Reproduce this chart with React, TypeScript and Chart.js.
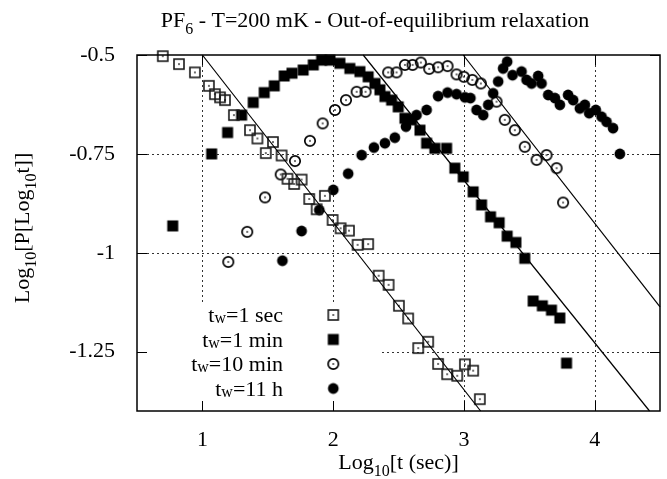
import React, { useEffect, useRef } from 'react';
import { Chart, registerables } from 'chart.js';

Chart.register(...registerables);

const FONT = '"Liberation Serif", "Times New Roman", "DejaVu Serif", serif';

const titleMain = 'PF';
const titleSub = '6';
const titleRest = ' - T=200 mK - Out-of-equilibrium relaxation';

const xTicks = [1, 2, 3, 4];
const xTickLabels = ['1', '2', '3', '4'];
const yTicks = [-0.5, -0.75, -1, -1.25];
const yTickLabels = ['-0.5', '-0.75', '-1', '-1.25'];
const xRange = [0.5, 4.5];
const yRange = [-1.4, -0.5];

const legendLabels = ['=1 sec', '=1 min', '=10 min', '=11 h'];

// tw = 1 sec (open squares)
const sec1X = [0.697, 0.821, 0.943, 1.05, 1.096, 1.135, 1.173, 1.241, 1.364, 1.421, 1.485, 1.54, 1.606, 1.651, 1.702, 1.759, 1.817, 1.874, 1.937, 1.996, 2.057, 2.121, 2.187, 2.268, 2.348, 2.424, 2.503, 2.574, 2.651, 2.727, 2.803, 2.872, 2.949, 3.008, 3.071, 3.122];
const sec1Y = [-0.503, -0.523, -0.544, -0.578, -0.599, -0.607, -0.614, -0.652, -0.69, -0.711, -0.748, -0.72, -0.754, -0.813, -0.826, -0.815, -0.864, -0.89, -0.856, -0.917, -0.938, -0.944, -0.98, -0.978, -1.058, -1.081, -1.134, -1.166, -1.241, -1.225, -1.281, -1.307, -1.311, -1.282, -1.298, -1.37];

// tw = 1 min (filled squares)
const min1X = [0.773, 1.071, 1.193, 1.3, 1.389, 1.473, 1.55, 1.626, 1.685, 1.771, 1.848, 1.912, 1.976, 2.052, 2.128, 2.205, 2.268, 2.32, 2.358, 2.396, 2.447, 2.498, 2.549, 2.6, 2.664, 2.715, 2.778, 2.868, 2.931, 2.995, 3.071, 3.135, 3.204, 3.27, 3.331, 3.398, 3.466, 3.53, 3.6, 3.67, 3.734, 3.785];
const min1Y = [-0.932, -0.75, -0.696, -0.652, -0.62, -0.595, -0.578, -0.553, -0.546, -0.538, -0.525, -0.513, -0.513, -0.521, -0.534, -0.542, -0.555, -0.572, -0.588, -0.605, -0.614, -0.631, -0.66, -0.664, -0.69, -0.723, -0.736, -0.736, -0.786, -0.808, -0.846, -0.879, -0.909, -0.924, -0.958, -0.974, -1.014, -1.122, -1.134, -1.145, -1.165, -1.279];

// tw = 10 min (open circles)
const min10X = [1.198, 1.343, 1.479, 1.599, 1.708, 1.823, 1.92, 2.014, 2.098, 2.18, 2.248, 2.421, 2.485, 2.549, 2.608, 2.671, 2.735, 2.803, 2.875, 2.944, 3.0, 3.065, 3.13, 3.25, 3.313, 3.39, 3.466, 3.556, 3.632, 3.709, 3.759];
const min10Y = [-1.023, -0.947, -0.86, -0.802, -0.768, -0.717, -0.673, -0.639, -0.614, -0.593, -0.593, -0.544, -0.544, -0.525, -0.525, -0.519, -0.535, -0.531, -0.528, -0.549, -0.555, -0.563, -0.572, -0.618, -0.664, -0.69, -0.732, -0.765, -0.753, -0.786, -0.873];

// tw = 11 h (filled circles)
const h11X = [1.612, 1.759, 1.894, 2.001, 2.115, 2.218, 2.312, 2.396, 2.472, 2.557, 2.638, 2.715, 2.803, 2.875, 2.944, 3.008, 3.05, 3.097, 3.148, 3.186, 3.224, 3.262, 3.3, 3.331, 3.372, 3.441, 3.479, 3.518, 3.568, 3.594, 3.645, 3.696, 3.734, 3.797, 3.836, 3.887, 3.925, 3.958, 4.009, 4.053, 4.091, 4.141, 4.193];
const h11Y = [-1.02, -0.945, -0.892, -0.841, -0.8, -0.753, -0.734, -0.723, -0.709, -0.681, -0.652, -0.639, -0.604, -0.595, -0.599, -0.607, -0.609, -0.639, -0.652, -0.626, -0.597, -0.567, -0.534, -0.517, -0.551, -0.542, -0.563, -0.572, -0.553, -0.572, -0.601, -0.609, -0.626, -0.601, -0.614, -0.635, -0.626, -0.647, -0.639, -0.656, -0.669, -0.685, -0.75];

// straight fit lines (endpoints)
const fitAX = [1.0, 3.128];
const fitAY = [-0.5, -1.4];
const fitBX = [2.23, 4.42];
const fitBY = [-0.5, -1.4];
const fitCX = [2.995, 4.5];
const fitCY = [-0.5, -1.137];

type Part = { t: string; s: number; dy?: number };

function richWidth(ctx: CanvasRenderingContext2D, parts: Part[]) {
  let w = 0;
  for (const p of parts) {
    ctx.font = `${p.s}px ${FONT}`;
    w += ctx.measureText(p.t).width;
  }
  return w;
}

function drawRich(ctx: CanvasRenderingContext2D, parts: Part[], x: number, y: number, align: 'left' | 'center' | 'right') {
  const w = richWidth(ctx, parts);
  let cx = align === 'left' ? x : align === 'center' ? x - w / 2 : x - w;
  ctx.textAlign = 'left';
  ctx.textBaseline = 'alphabetic';
  ctx.fillStyle = '#000';
  for (const p of parts) {
    ctx.font = `${p.s}px ${FONT}`;
    ctx.fillText(p.t, cx, y + (p.dy || 0));
    cx += ctx.measureText(p.t).width;
  }
}

function makeMarker(kind: string): HTMLCanvasElement {
  const c = document.createElement('canvas');
  c.width = 16;
  c.height = 16;
  const g = c.getContext('2d') as CanvasRenderingContext2D;
  const m = 8;
  g.fillStyle = '#000';
  g.strokeStyle = '#1a1a1a';
  if (kind === 'openSquare') {
    g.lineWidth = 1.6;
    g.strokeRect(m - 5, m - 5, 10, 10);
    g.fillRect(m - 0.75, m - 0.75, 1.5, 1.5);
  } else if (kind === 'filledSquare') {
    g.fillRect(m - 5.5, m - 5.5, 11, 11);
  } else if (kind === 'openCircle') {
    g.strokeStyle = '#000';
    g.lineWidth = 1.7;
    g.beginPath();
    g.arc(m, m, 5.2, 0, Math.PI * 2);
    g.stroke();
    g.fillRect(m - 0.75, m - 0.75, 1.5, 1.5);
  } else {
    g.beginPath();
    g.arc(m, m, 5.4, 0, Math.PI * 2);
    g.fill();
  }
  return c;
}

export default function App() {
  const ref = useRef<HTMLCanvasElement | null>(null);

  useEffect(() => {
    const canvas = ref.current;
    if (!canvas) return;
    const markers = [
      makeMarker('openSquare'),
      makeMarker('filledSquare'),
      makeMarker('openCircle'),
      makeMarker('filledCircle'),
    ];
    const pts = (xs: number[], ys: number[]) => xs.map((x, i) => ({ x, y: ys[i] }));
    const markerSet = (data: { x: number; y: number }[], m: HTMLCanvasElement) => ({
      type: 'scatter' as const,
      data,
      pointStyle: m,
      pointRadius: 6,
      showLine: false,
      clip: false as any,
    });
    const lineSet = (data: { x: number; y: number }[]) => ({
      type: 'scatter' as const,
      data,
      showLine: true,
      pointRadius: 0,
      borderColor: '#000',
      borderWidth: 1.2,
      clip: false as any,
    });

    const decor = {
      id: 'decor',
      beforeDatasetsDraw(chart: any) {
        const { ctx, chartArea: a, scales } = chart;
        const x = scales.x;
        const y = scales.y;
        ctx.save();
        ctx.strokeStyle = '#333';
        ctx.lineWidth = 1;
        ctx.setLineDash([2, 3]);
        for (const v of xTicks) {
          const px = Math.round(x.getPixelForValue(v)) + 0.5;
          ctx.beginPath();
          ctx.moveTo(px, a.top);
          ctx.lineTo(px, a.bottom);
          ctx.stroke();
        }
        for (const v of yTicks) {
          if (v === yRange[1]) continue;
          const py = Math.round(y.getPixelForValue(v)) + 0.5;
          ctx.beginPath();
          ctx.moveTo(a.left, py);
          ctx.lineTo(a.right, py);
          ctx.stroke();
        }
        ctx.restore();
      },
      afterDatasetsDraw(chart: any) {
        const { ctx, chartArea: a, scales } = chart;
        const x = scales.x;
        const y = scales.y;
        ctx.save();
        // legend box
        const boxTop = 302;
        const boxRight = 382;
        ctx.fillStyle = '#fff';
        ctx.fillRect(a.left, boxTop, boxRight - a.left, a.bottom - boxTop);
        const rowY0 = 315;
        const rowDy = 24.5;
        legendLabels.forEach((lab, i) => {
          const ry = rowY0 + i * rowDy;
          drawRich(ctx, [
            { t: 't', s: 22 },
            { t: 'w', s: 16, dy: 1 },
            { t: lab, s: 22 },
          ], 283, ry + 7, 'right');
          const m = markers[i];
          ctx.drawImage(m, 333.3 - m.width / 2, ry - m.height / 2);
        });
        // border
        ctx.strokeStyle = '#000';
        ctx.lineWidth = 1.5;
        ctx.setLineDash([]);
        ctx.strokeRect(a.left, a.top, a.right - a.left, a.bottom - a.top);
        // ticks
        ctx.lineWidth = 1;
        const tl = 10;
        for (const v of xTicks) {
          const px = Math.round(x.getPixelForValue(v)) + 0.5;
          ctx.beginPath();
          ctx.moveTo(px, a.bottom);
          ctx.lineTo(px, a.bottom - tl);
          ctx.moveTo(px, a.top);
          ctx.lineTo(px, a.top + tl);
          ctx.stroke();
        }
        for (const v of yTicks) {
          const py = Math.round(y.getPixelForValue(v)) + 0.5;
          ctx.beginPath();
          ctx.moveTo(a.left, py);
          ctx.lineTo(a.left + tl, py);
          ctx.moveTo(a.right, py);
          ctx.lineTo(a.right - tl, py);
          ctx.stroke();
        }
        // title
        drawRich(ctx, [
          { t: titleMain, s: 22 },
          { t: titleSub, s: 16, dy: 7 },
          { t: titleRest, s: 22 },
        ], 375, 27, 'center');
        // x title
        drawRich(ctx, [
          { t: 'Log', s: 22 },
          { t: '10', s: 16, dy: 7 },
          { t: '[t (sec)]', s: 22 },
        ], (a.left + a.right) / 2, 469, 'center');
        // y title
        ctx.translate(29, 228);
        ctx.rotate(-Math.PI / 2);
        drawRich(ctx, [
          { t: 'Log', s: 22 },
          { t: '10', s: 16, dy: 7 },
          { t: '[P[Log', s: 22 },
          { t: '10', s: 16, dy: 7 },
          { t: 't]]', s: 22 },
        ], 0, 0, 'center');
        ctx.restore();
      },
    };

    const chart = new Chart(canvas, {
      type: 'scatter',
      data: {
        datasets: [
          lineSet(pts(fitAX, fitAY)),
          lineSet(pts(fitBX, fitBY)),
          lineSet(pts(fitCX, fitCY)),
          markerSet(pts(sec1X, sec1Y), markers[0]),
          markerSet(pts(min1X, min1Y), markers[1]),
          markerSet(pts(min10X, min10Y), markers[2]),
          markerSet(pts(h11X, h11Y), markers[3]),
        ] as any,
      },
      options: {
        responsive: false,
        animation: false,
        devicePixelRatio: 1,
        layout: { padding: { top: 55, right: 7, left: 0, bottom: 0 } },
        plugins: { legend: { display: false }, tooltip: { enabled: false }, title: { display: false } },
        events: [],
        scales: {
          x: {
            type: 'linear',
            min: xRange[0],
            max: xRange[1],
            grid: { display: false },
            border: { display: false },
            afterBuildTicks: (s: any) => { s.ticks = xTicks.map((v) => ({ value: v })); },
            afterFit: (s: any) => { s.height = 68; },
            ticks: {
              color: '#000',
              padding: 8,
              font: { family: FONT, size: 22 },
              maxRotation: 0,
              callback: (_v: any, i: number) => xTickLabels[i],
            },
          },
          y: {
            type: 'linear',
            min: yRange[0],
            max: yRange[1],
            grid: { display: false },
            border: { display: false },
            afterBuildTicks: (s: any) => { s.ticks = yTicks.map((v) => ({ value: v })); },
            afterFit: (s: any) => { s.width = 137; },
            ticks: {
              color: '#000',
              padding: 14,
              font: { family: FONT, size: 22 },
              callback: (_v: any, i: number) => yTickLabels[i],
            },
          },
        },
      },
      plugins: [decor],
    });
    return () => chart.destroy();
  }, []);

  return (
    <div style={{ position: 'fixed', left: 0, top: 0, width: 667, height: 479, background: '#fff' }}>
      <canvas ref={ref} width={667} height={479} style={{ display: 'block', width: 667, height: 479 }} />
    </div>
  );
}
